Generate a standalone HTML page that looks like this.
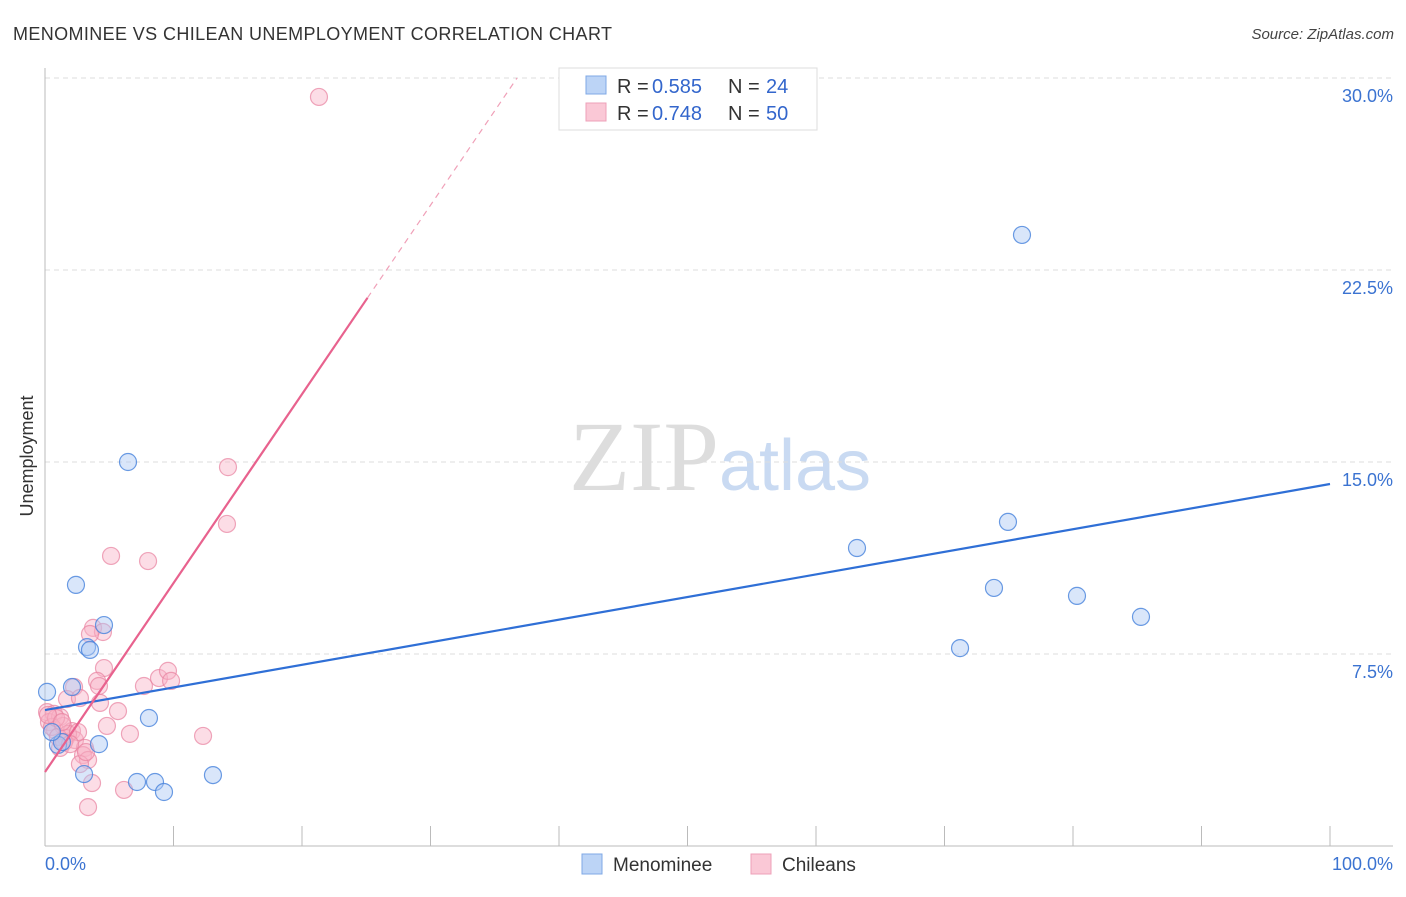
<!DOCTYPE html>
<html><head><meta charset="utf-8"><style>
body{margin:0;background:#fff;font-family:"Liberation Sans",sans-serif;}
svg text{font-family:"Liberation Sans",sans-serif;}
</style></head><body>
<svg id="c" width="1406" height="892" xmlns="http://www.w3.org/2000/svg">
<text x="13" y="40" font-size="18" fill="#333" textLength="599" lengthAdjust="spacing">MENOMINEE VS CHILEAN UNEMPLOYMENT CORRELATION CHART</text>
<text x="1394" y="39" font-size="15" fill="#444" text-anchor="end" font-style="italic">Source: ZipAtlas.com</text>
<text x="720" y="490" font-size="100" text-anchor="middle"><tspan fill="#ddd" font-family="Liberation Serif">ZIP</tspan><tspan fill="#c9daf2" font-size="72">atlas</tspan></text>
<text transform="translate(33,456) rotate(-90)" font-size="18" fill="#333" text-anchor="middle">Unemployment</text>
<g id="grid"></g><g id="axes"></g><g id="marks"></g>
<g>
<rect x="559" y="68" width="258" height="62" fill="#fff" stroke="#ddd"/>
<rect x="586" y="76" width="20" height="18" fill="#bcd4f6" stroke="#7fa8e6"/>
<rect x="586" y="103" width="20" height="18" fill="#fac8d6" stroke="#eea0b8"/>
<text x="617" y="93" font-size="20" fill="#333">R =</text><text x="652" y="93" font-size="20" fill="#3366cc">0.585</text>
<text x="728" y="93" font-size="20" fill="#333">N =</text><text x="766" y="93" font-size="20" fill="#3366cc">24</text>
<text x="617" y="120" font-size="20" fill="#333">R =</text><text x="652" y="120" font-size="20" fill="#3366cc">0.748</text>
<text x="728" y="120" font-size="20" fill="#333">N =</text><text x="766" y="120" font-size="20" fill="#3366cc">50</text>
</g>
<g>
<rect x="582" y="854" width="20" height="20" fill="#bcd4f6" stroke="#7fa8e6"/>
<text x="613" y="871" font-size="19" fill="#333">Menominee</text>
<rect x="751" y="854" width="20" height="20" fill="#fac8d6" stroke="#eea0b8"/>
<text x="782" y="871" font-size="19" fill="#333">Chileans</text>
</g>
</svg>
<script>
const yTicks=[7.5,15,22.5,30];
const yTickLabels=["7.5%","15.0%","22.5%","30.0%"];
const blueX=[0.16,6.46,2.41,4.59,3.27,3.5,2.1,8.09,4.2,1.01,3.04,7.16,8.56,9.26,13.07,63.19,76.03,74.94,73.85,80.31,85.29,71.21,1.32,0.54];
const blueY=[6.02,15.0,10.2,8.63,7.77,7.66,6.21,5.0,3.98,3.95,2.81,2.5,2.5,2.11,2.77,11.64,23.87,12.66,10.08,9.77,8.95,7.73,4.06,4.45];
const pinkX=[21.32,14.24,14.16,5.14,8.02,3.74,4.51,3.5,4.59,4.05,4.2,2.26,1.71,2.72,4.28,5.68,7.7,8.87,9.57,9.81,4.82,6.61,12.3,0.16,0.7,0.31,1.17,0.78,1.4,2.1,1.63,2.33,1.17,3.11,2.96,3.35,2.72,3.66,6.15,3.35,0.54,1.01,1.79,2.57,0.86,1.48,3.19,1.95,0.23,1.32];
const pinkY=[29.26,14.8,12.58,11.33,11.13,8.52,8.36,8.28,6.95,6.45,6.25,6.21,5.74,5.78,5.59,5.27,6.25,6.56,6.84,6.45,4.69,4.38,4.3,5.23,5.16,4.84,5.04,4.53,4.69,4.49,4.22,4.14,3.83,3.83,3.55,3.36,3.2,2.46,2.19,1.52,4.65,4.26,4.38,4.45,5.0,4.06,3.67,3.98,5.12,4.84];
const blueLine=[5.31,14.14];
const pinkIntercept=2.89, pinkSlope=0.738, pinkSolidEnd=25.1;
const sx=v=>45+v*12.85, sy=v=>846-v*25.6;
const NS="http://www.w3.org/2000/svg";
function mk(tag,attrs,parent){const e=document.createElementNS(NS,tag);for(const k in attrs)e.setAttribute(k,attrs[k]);document.getElementById(parent).appendChild(e);return e;}
yTicks.forEach((t,i)=>{
 const l=mk('line',{x1:45,x2:1393,y1:sy(t),y2:sy(t),stroke:'#ddd','stroke-dasharray':'5,4'},'grid');
 
 
 const tx=mk('text',{x:1393,y:sy(t)+24,'font-size':18,fill:'#3b73d1','text-anchor':'end'},'grid');
 tx.textContent=yTickLabels[i];
 
 
});
let a=mk('line',{x1:45,x2:45,y1:68,y2:846,stroke:'#bbb'},'axes');

a=mk('line',{x1:45,x2:1393,y1:846,y2:846,stroke:'#bbb'},'axes');

for(let i=1;i<=10;i++){const t=mk('line',{x1:sx(i*10),x2:sx(i*10),y1:826,y2:846,stroke:'#bbb'},'axes');
 }
let xl=mk('text',{x:45,y:870,'font-size':18,fill:'#3b73d1'},'axes');xl.textContent='0.0%';

xl=mk('text',{x:1393,y:870,'font-size':18,fill:'#3b73d1','text-anchor':'end'},'axes');xl.textContent='100.0%';

pinkX.forEach((x,i)=>{const c=mk('circle',{cx:sx(x),cy:sy(pinkY[i]),r:8.5,fill:'rgba(248,180,200,0.45)',stroke:'rgba(232,130,160,0.7)','stroke-width':1.2},'marks');
 });
blueX.forEach((x,i)=>{const c=mk('circle',{cx:sx(x),cy:sy(blueY[i]),r:8.5,fill:'rgba(170,200,245,0.45)',stroke:'rgba(70,130,220,0.8)','stroke-width':1.2},'marks');
 });
let tl=mk('line',{x1:sx(0),y1:sy(blueLine[0]),x2:sx(100),y2:sy(blueLine[1]),stroke:'#2f6fd6','stroke-width':2.2},'marks');

const pEnd=(30-pinkIntercept)/pinkSlope;
tl=mk('line',{x1:sx(0),y1:sy(pinkIntercept),x2:sx(pinkSolidEnd),y2:sy(pinkIntercept+pinkSlope*pinkSolidEnd),stroke:'#e8628e','stroke-width':2.2},'marks');

tl=mk('line',{x1:sx(pinkSolidEnd),y1:sy(pinkIntercept+pinkSlope*pinkSolidEnd),x2:sx(pEnd),y2:sy(pinkIntercept+pinkSlope*pEnd),stroke:'#f0a0b8','stroke-width':1.2,'stroke-dasharray':'6,5'},'marks');

</script>
</body></html>
